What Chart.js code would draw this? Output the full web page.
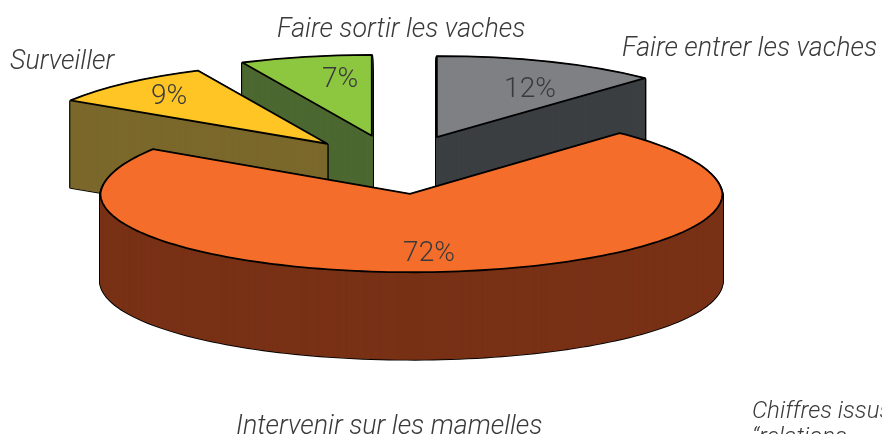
<!DOCTYPE html>
<html>
<head>
<meta charset="utf-8">
<script src="https://cdn.jsdelivr.net/npm/chart.js@4"></script>
<style>
  html, body { margin: 0; background: #fff; overflow: hidden; }
  canvas { display: block; }
</style>
</head>
<body>
<canvas id="pie" width="882" height="434"></canvas>
<script>
var categories = ["Faire entrer les vaches", "Intervenir sur les mamelles", "Surveiller", "Faire sortir les vaches"];
var shares = [12, 72, 9, 7];
var topColors = ["#7f8084", "#f56d2a", "#fec524", "#8dc63f"];
var sideColors = ["#3b3f42", "#793116", "#7b682b", "#4c6831"];

// where the text goes on the page
var categoryAt = [[622, 56], [236, 434], [10, 69], [277, 37]];
var percentAt = [[530, 90], [429, 254], [169, 97], [340, 80]];
var noteLines = [["Chiffres issus", 752, 418], ["\u201crelations", 752, 444]];

// fake 3D look
var depth = 87;
var tilt = 0.266;
var paintOrder = [0, 3, 2, 1];
// the big front slice is drawn a bit larger at the front, perspective of the original
var nearSlice = 1;

function slicePath(ctx, arc, i, dy) {
  var p = arc.getProps(["x", "y", "startAngle", "endAngle", "outerRadius"], true);
  var mid = (p.startAngle + p.endAngle) / 2;
  var off = arc.options.offset;
  var cx = p.x + Math.cos(mid) * off;
  var cy = p.y + Math.sin(mid) * off * tilt + dy;
  var r = p.outerRadius;
  ctx.beginPath();
  ctx.moveTo(cx, cy);
  if (i !== nearSlice) {
    ctx.ellipse(cx, cy, r, r * tilt, 0, p.startAngle, p.endAngle);
  } else {
    var steps = 160;
    for (var s = 0; s <= steps; s++) {
      var t = p.startAngle + (p.endAngle - p.startAngle) * s / steps;
      var sin = Math.sin(t);
      var gx = 1.023 * (sin < 0 ? 1 + 0.03 * sin : 1);
      var gy = sin < 0 ? 1.03 : 0.97;
      ctx.lineTo(cx + 1.5 + r * gx * Math.cos(t), cy + r * tilt * gy * sin);
    }
  }
  ctx.closePath();
}

var pie3d = {
  id: "pie3d",
  beforeDatasetDraw: function (chart) {
    var ctx = chart.ctx;
    var arcs = chart.getDatasetMeta(0).data;
    ctx.save();
    ctx.lineJoin = "round";
    paintOrder.forEach(function (i) {
      var arc = arcs[i];
      var d;
      ctx.strokeStyle = "#000";
      ctx.lineWidth = 2.8;
      for (d = depth; d > 0; d -= 1) {
        slicePath(ctx, arc, i, d);
        ctx.stroke();
      }
      ctx.strokeStyle = sideColors[i];
      ctx.fillStyle = sideColors[i];
      ctx.lineWidth = 1;
      for (d = depth; d > 0; d -= 1) {
        slicePath(ctx, arc, i, d);
        ctx.fill();
        ctx.stroke();
      }
      slicePath(ctx, arc, i, 0);
      ctx.fillStyle = arc.options.backgroundColor;
      ctx.strokeStyle = "#000";
      ctx.lineWidth = 1.8;
      ctx.fill();
      ctx.stroke();
    });
    ctx.restore();
    return false;
  },
  afterDraw: function (chart) {
    var ctx = chart.ctx;
    ctx.save();
    ctx.fillStyle = "#3a3a3c";
    ctx.textBaseline = "alphabetic";
    ctx.textAlign = "left";
    ctx.font = "italic 300 26.8px Roboto";
    categories.forEach(function (name, i) {
      ctx.fillText(name, categoryAt[i][0], categoryAt[i][1]);
    });
    ctx.font = "italic 300 24px Roboto";
    noteLines.forEach(function (n) {
      ctx.fillText(n[0], n[1], n[2]);
    });
    ctx.font = "300 28px Roboto";
    ctx.textAlign = "center";
    ctx.textBaseline = "middle";
    shares.forEach(function (v, i) {
      ctx.fillText(v + "%", percentAt[i][0], percentAt[i][1]);
    });
    ctx.restore();
  }
};

new Chart(document.getElementById("pie"), {
  type: "pie",
  data: {
    labels: categories,
    datasets: [{ data: shares, backgroundColor: topColors, borderWidth: 0, offset: [111, 111, 104, 111] }]
  },
  options: {
    responsive: false,
    animation: false,
    radius: 304,
    layout: { padding: { left: 0, top: 0, right: 90, bottom: 105 } },
    plugins: { legend: { display: false }, tooltip: { enabled: false } }
  },
  plugins: [pie3d]
});
</script>
</body>
</html>
